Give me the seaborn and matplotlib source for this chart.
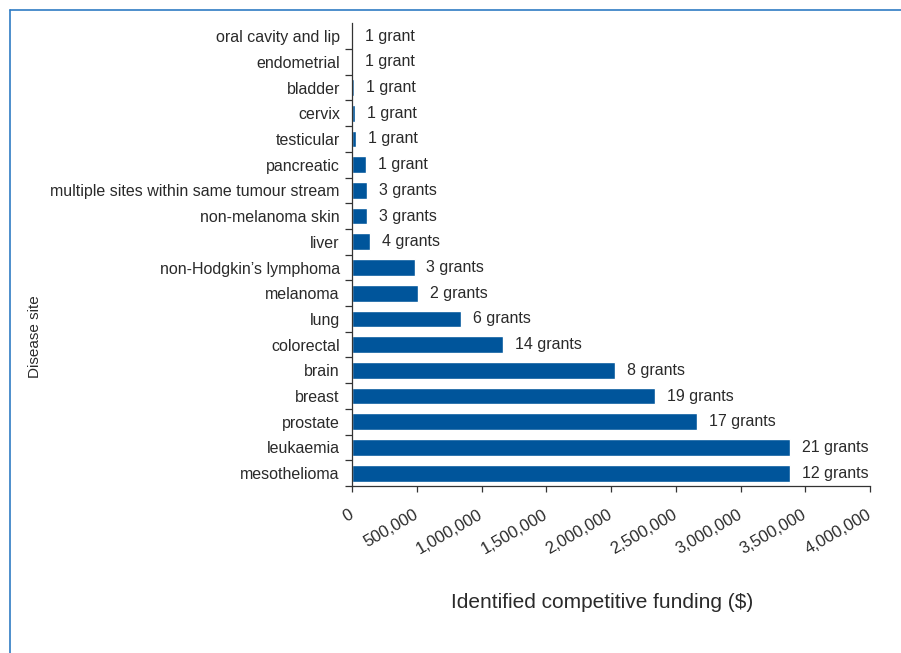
import numpy as np
import pandas as pd
import matplotlib
matplotlib.use('Agg')
import matplotlib.pyplot as plt
from matplotlib.lines import Line2D
from matplotlib.ticker import FuncFormatter
import seaborn as sns

# Data (top to bottom)
sites = ['oral cavity and lip', 'endometrial', 'bladder', 'cervix', 'testicular',
         'pancreatic', 'multiple sites within same tumour stream', 'non-melanoma skin',
         'liver', 'non-Hodgkin\u2019s lymphoma', 'melanoma', 'lung', 'colorectal',
         'brain', 'breast', 'prostate', 'leukaemia', 'mesothelioma']
funding = [2000, 3000, 11000, 18000, 26000,
           103000, 111000, 111000,
           134000, 481000, 507000, 842000, 1168000,
           2027000, 2342000, 2660000, 3382000, 3382000]
grants = [1, 1, 1, 1, 1, 1, 3, 3, 4, 3, 2, 6, 14, 8, 19, 17, 21, 12]

df = pd.DataFrame({'site': sites, 'funding': funding, 'grants': grants})

sns.set_theme(style='white')
plt.rcParams['font.family'] = ['Liberation Sans', 'DejaVu Sans']
text_col = '#2a2a2a'
bar_col = '#00559b'

fig = plt.figure(figsize=(9.01, 6.53), dpi=100)
ax = fig.add_axes([352.3 / 901, 1 - 486 / 653, (870 - 352.3) / 901, (486 - 23.3) / 653])

sns.barplot(data=df, x='funding', y='site', order=sites, color=bar_col,
            saturation=1, width=0.65, orient='h', ax=ax)

# grant count labels
for i, (v, g) in enumerate(zip(funding, grants)):
    lab = f'{g} grant' if g == 1 else f'{g} grants'
    ax.annotate(lab, xy=(v, i), xytext=(8.6, 0), textcoords='offset points',
                ha='left', va='center', fontsize=11.5, color=text_col)

ax.set_xlim(0, 4000000)
ax.set_ylim(len(sites) - 0.5, -0.5)
ax.set_xticks(np.arange(0, 4000001, 500000))
ax.xaxis.set_major_formatter(FuncFormatter(lambda x, p: f'{int(x):,}'))

# y ticks between categories
ax.set_yticks(np.arange(0.5, len(sites), 1), minor=True)
ax.tick_params(axis='y', which='major', left=False, length=0, pad=9, labelsize=11.5, labelcolor=text_col)
ax.tick_params(axis='y', which='minor', left=True, length=5, width=0.9, color='#333333', direction='out')
ax.tick_params(axis='x', which='major', bottom=True, length=4.5, width=0.9, color='#333333',
               direction='out', pad=15.5, labelsize=12, labelcolor=text_col)
for lab in ax.get_xticklabels():
    lab.set_rotation(30)
    lab.set_ha('right')
    lab.set_va('center')
    lab.set_rotation_mode('anchor')

sns.despine(ax=ax)
for s in ['left', 'bottom']:
    ax.spines[s].set_color('#333333')
    ax.spines[s].set_linewidth(0.9)

ax.set_ylabel('')
ax.set_xlabel('')
fig.text(602 / 901, 1 - 603 / 653, 'Identified competitive funding ($)', ha='center', va='center',
         fontsize=15, color=text_col)
fig.text(35 / 901, 1 - 337 / 653, 'Disease site', rotation=90, ha='center', va='center',
         fontsize=11, color=text_col)

# light blue frame lines (top and left)
frame_col = '#2f7cc4'
fig.add_artist(Line2D([10 / 901, 1], [1 - 10 / 653, 1 - 10 / 653], color=frame_col, lw=1.2,
                      transform=fig.transFigure))
fig.add_artist(Line2D([10 / 901, 10 / 901], [0, 1 - 10 / 653], color=frame_col, lw=1.2,
                      transform=fig.transFigure))

fig.savefig('out.png', dpi=100)
